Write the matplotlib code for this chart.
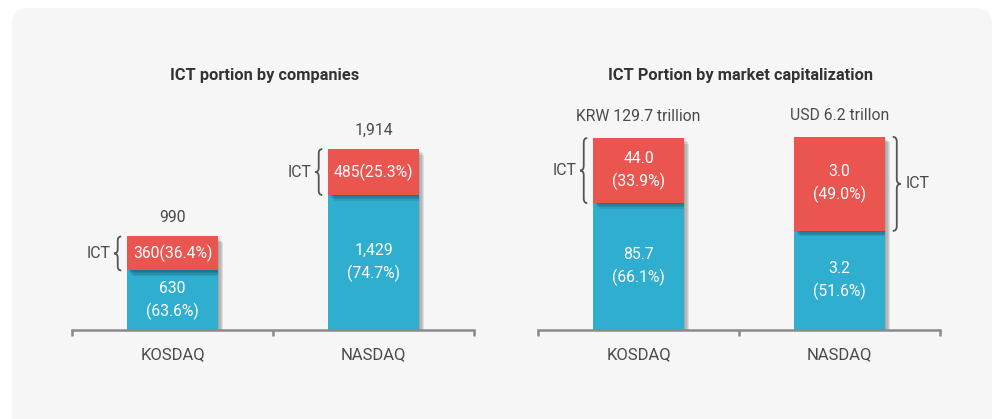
import matplotlib
matplotlib.use("Agg")
import matplotlib.pyplot as plt
from matplotlib.patches import FancyBboxPatch, PathPatch
from matplotlib.path import Path
import matplotlib.patheffects as pe

plt.rcParams['font.family'] = ['Roboto', 'DejaVu Sans']

# data
categories = ['KOSDAQ', 'NASDAQ']

comp_other = [630, 1429]
comp_ict = [360, 485]
comp_other_labels = ['630\n(63.6%)', '1,429\n(74.7%)']
comp_ict_labels = ['360(36.4%)', '485(25.3%)']
comp_total_labels = ['990', '1,914']

cap_other_pct = [66.1, 51.6]
cap_ict_pct = [33.9, 49.0]
cap_other_labels = ['85.7\n(66.1%)', '3.2\n(51.6%)']
cap_ict_labels = ['44.0\n(33.9%)', '3.0\n(49.0%)']
cap_total_labels = ['KRW 129.7 trillion', 'USD 6.2 trillon']

RED = '#EA5550'
BLUE = '#2FAED0'
AXIS = '#8a8a8a'
TXT = '#4a4a4a'

W, H = 992, 419
fig = plt.figure(figsize=(W / 100, H / 100), dpi=100)
fig.patch.set_facecolor('white')

# background panel
bg = fig.add_axes([0, 0, 1, 1], zorder=-1)
bg.set_xlim(0, W)
bg.set_ylim(H, 0)
bg.axis('off')
bg.add_patch(FancyBboxPatch((12, 8), 980, 430, boxstyle='round,pad=0,rounding_size=16',
                            fc='#f6f6f6', ec='none'))


def px_axes(x0, x1, ybase, ytop):
    return fig.add_axes([x0 / W, (H - ybase) / H, (x1 - x0) / W, (ybase - ytop) / H])


def brace(ax, x_end, y0, y1, w, d, side):
    xs = x_end + side * w / 2
    xt = x_end + side * w
    ym = (y0 + y1) / 2
    verts = [(x_end, y1), (xs, y1), (xs, y1 - d),
             (xs, ym + d), (xs, ym), (xt, ym),
             (xs, ym), (xs, ym - d),
             (xs, y0 + d), (xs, y0), (x_end, y0)]
    codes = [Path.MOVETO, Path.CURVE3, Path.CURVE3,
             Path.LINETO, Path.CURVE3, Path.CURVE3,
             Path.CURVE3, Path.CURVE3,
             Path.LINETO, Path.CURVE3, Path.CURVE3]
    ax.add_patch(PathPatch(Path(verts, codes), fc='none', ec='#555555', lw=1.3,
                           clip_on=False, zorder=5))


def style_axes(ax, ymax):
    ax.set_xlim(-0.5, 1.5)
    ax.set_ylim(0, ymax)
    ax.patch.set_alpha(0)
    for s in ['top', 'right', 'left']:
        ax.spines[s].set_visible(False)
    ax.spines['bottom'].set_color(AXIS)
    ax.spines['bottom'].set_linewidth(1.8)
    ax.set_yticks([])
    ax.set_xticks([0, 1])
    ax.set_xticklabels(categories, fontsize=12, color=TXT)
    ax.tick_params(axis='x', which='major', length=0, pad=12)
    ax.set_xticks([-0.5, 0.5, 1.5], minor=True)
    ax.tick_params(axis='x', which='minor', length=4, width=1.8, color=AXIS, direction='out')


# soft drop shadow built from a few faint offset copies
shadow = [pe.SimplePatchShadow(offset=(k, -k), shadow_rgbFace='black', alpha=0.09)
          for k in (4, 3, 2, 1)] + [pe.Normal()]
bw = 0.45
xpos = [0, 1]
FS = 11.3

# left chart: by companies
axl = px_axes(72, 474, 330, 100)
style_axes(axl, 2434)
b1 = axl.bar(xpos, comp_other, bw, color=BLUE, zorder=2)
b2 = axl.bar(xpos, comp_ict, bw, bottom=comp_other, color=RED, zorder=3)
for b in list(b1) + list(b2):
    b.set_path_effects(shadow)
for i in range(2):
    axl.text(xpos[i], comp_other[i] / 2, comp_other_labels[i], ha='center', va='center',
             color='white', fontsize=FS, linespacing=1.5, zorder=4)
    axl.text(xpos[i], comp_other[i] + comp_ict[i] / 2, comp_ict_labels[i], ha='center',
             va='center', color='white', fontsize=FS, zorder=4)
    axl.annotate(comp_total_labels[i], (xpos[i], comp_other[i] + comp_ict[i]),
                 xytext=(0, 8), textcoords='offset points', ha='center', va='bottom',
                 color=TXT, fontsize=FS)
    y0 = comp_other[i]
    y1 = comp_other[i] + comp_ict[i]
    xe = xpos[i] - bw / 2 - 0.03
    brace(axl, xe, y0, y1, 0.035, 45, -1)
    axl.text(xe - 0.055, (y0 + y1) / 2, 'ICT', ha='right', va='center', color=TXT, fontsize=11.5)

# right chart: by market capitalization
axr = px_axes(538, 940, 330, 100)
style_axes(axr, 119.8)
c1 = axr.bar(xpos, cap_other_pct, bw, color=BLUE, zorder=2)
c2 = axr.bar(xpos, cap_ict_pct, bw, bottom=cap_other_pct, color=RED, zorder=3)
for b in list(c1) + list(c2):
    b.set_path_effects(shadow)
for i in range(2):
    axr.text(xpos[i], cap_other_pct[i] / 2, cap_other_labels[i], ha='center', va='center',
             color='white', fontsize=FS, linespacing=1.5, zorder=4)
    axr.text(xpos[i], cap_other_pct[i] + cap_ict_pct[i] / 2, cap_ict_labels[i], ha='center',
             va='center', color='white', fontsize=FS, linespacing=1.5, zorder=4)
    axr.annotate(cap_total_labels[i], (xpos[i], cap_other_pct[i] + cap_ict_pct[i]),
                 xytext=(0, 10), textcoords='offset points', ha='center', va='bottom',
                 color=TXT, fontsize=FS)
    y0 = cap_other_pct[i]
    y1 = cap_other_pct[i] + cap_ict_pct[i]
    if i == 0:
        xe = xpos[i] - bw / 2 - 0.03
        brace(axr, xe, y0, y1, 0.035, 2.5, -1)
        axr.text(xe - 0.055, (y0 + y1) / 2, 'ICT', ha='right', va='center', color=TXT,
                 fontsize=11.5)
    else:
        xe = xpos[i] + bw / 2 + 0.04
        brace(axr, xe, y0, y1, 0.04, 2.5, 1)
        axr.text(xe + 0.065, (y0 + y1) / 2, 'ICT', ha='left', va='center', color=TXT,
                 fontsize=11.5)

fig.text(265 / W, 1 - 75 / H, 'ICT portion by companies', ha='center', va='center',
         fontsize=11.8, fontweight='bold', color='#333333')
fig.text(740 / W, 1 - 75 / H, 'ICT Portion by market capitalization', ha='center', va='center',
         fontsize=11.8, fontweight='bold', color='#333333')

fig.savefig('out.png', dpi=100, facecolor='white')
